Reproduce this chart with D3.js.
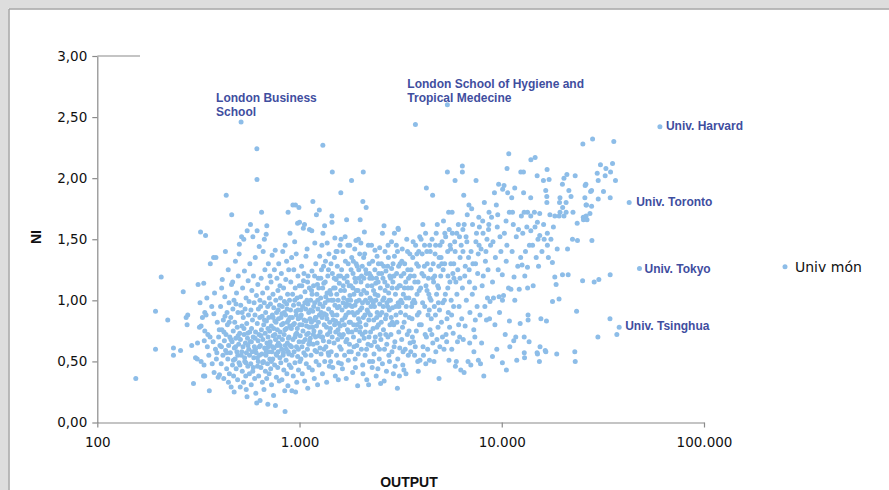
<!DOCTYPE html>
<html><head><meta charset="utf-8">
<script src="https://cdn.jsdelivr.net/npm/d3@7"></script>
<style>body{margin:0;background:#fff}svg{display:block}</style>
</head><body>
<svg id="chart" width="889" height="490"></svg>
<script>
// ---- data ----
const xTicks = [100, 1000, 10000, 100000];
const yTicks = [0, 0.5, 1, 1.5, 2, 2.5, 3];
const xTitle = "OUTPUT";
const yTitle = "NI";
const seriesName = "Univ món";

const namedUnis = ["London Business School", "London School of Hygiene and Tropical Medecine", "Univ. Harvard", "Univ. Toronto", "Univ. Tokyo", "Univ. Tsinghua"];
const namedOutput = [514, 5383, 60530, 42660, 47970, 38070];
const namedNI = [2.46, 2.60, 2.42, 1.80, 1.26, 0.78];

// [OUTPUT, NI] pairs, output below 1.000
const univLow = [
[155,0.36],[194,0.91],[207,1.19],[223,0.84],[194,0.60],[238,0.61],[238,0.55],[258,0.59],[266,1.07],[275,0.86],[280,0.88],[278,0.80],[293,0.63],[306,0.53],[299,0.32],
[313,0.65],[312,0.52],[315,1.13],[322,0.98],[324,1.56],[343,1.53],[336,1.14],[326,0.79],[340,0.75],[340,0.90],[345,0.88],[338,0.67],[335,0.38],[337,0.47],[358,0.26],[356,0.55],[350,0.62],[352,0.72],[348,1.02],[331,0.86],[320,0.78],[326,0.50],[340,0.38],
[362,1.30],[376,1.35],[386,1.35],[380,1.06],[377,0.89],[361,0.70],[390,0.57],[398,0.70],[401,0.76],[378,0.41],[396,0.37],[402,0.39],[370,0.48],[384,0.60],[392,0.82],[368,0.95],[388,0.52],[374,0.66],
[404,0.63],[407,0.95],[410,0.48],[413,0.76],[415,1.17],[418,0.55],[420,0.84],[422,0.36],[425,0.67],[427,1.03],[430,1.40],[431,0.59],[433,0.72],[436,0.44],[438,0.90],[440,0.80],[442,0.52],[444,1.25],[446,0.63],[448,0.98],[450,0.40],[452,0.70],[434,1.86],[445,0.33],[412,1.10],[428,0.87],
[455,0.57],[457,0.86],[459,0.29],[461,1.13],[462,1.70],[464,0.66],[466,0.47],[468,0.93],[470,0.75],[472,0.38],[474,1.00],[476,0.61],[478,0.82],[480,0.52],[482,1.32],[484,0.69],[486,0.44],[488,1.06],[490,0.58],[492,0.78],[494,0.35],[496,0.90],[498,1.20],[500,0.64],[502,0.49],[504,1.46],[506,0.73],[503,1.38],[485,0.97],[475,0.25],[495,0.55],[467,1.15],
[509,0.29],[510,0.68],[512,0.96],[515,0.55],[517,1.52],[519,0.79],[521,0.42],[523,1.10],[525,0.62],[527,0.86],[529,0.33],[530,1.50],[532,0.72],[534,1.24],[536,0.50],[538,0.93],[540,0.65],[542,0.38],[544,1.02],[546,0.57],[548,0.81],[550,0.21],[551,1.57],[553,0.69],[555,0.46],[557,1.16],[559,0.88],[561,0.60],[563,0.99],[565,0.40],[567,0.74],[568,1.30],[545,0.27],[535,0.53],[556,0.63],[520,0.90],
[570,0.66],[572,1.62],[574,0.48],[575,0.92],[577,0.31],[579,0.77],[581,1.08],[583,0.58],[585,0.84],[587,0.42],[588,1.52],[590,0.70],[592,1.20],[594,0.53],[596,0.98],[598,0.62],[600,0.36],[602,0.88],[604,1.35],[606,0.74],[608,0.24],[610,0.57],[612,1.04],[614,0.16],[615,2.24],[616,1.99],[617,1.57],[618,0.81],[620,0.46],[622,1.13],[624,0.67],[626,0.93],[628,0.38],[630,0.72],[632,1.44],[634,0.55],[636,0.86],[637,1.00],[605,0.60],[625,0.50],
[638,0.18],[640,0.63],[642,0.95],[644,0.45],[646,1.18],[648,0.76],[649,1.72],[651,0.56],[653,0.87],[655,0.33],[657,1.06],[659,0.68],[661,1.40],[663,0.50],[665,0.80],[667,0.27],[669,0.98],[670,1.50],[672,0.61],[674,1.25],[676,0.73],[678,0.42],[680,0.90],[682,0.55],[684,1.54],[686,0.83],[688,0.36],[689,1.61],[690,0.65],[692,1.10],[694,0.48],[696,0.95],[697,0.15],[699,0.70],[701,1.30],[703,0.58],[705,0.86],[707,0.40],[709,1.02],[711,0.75],[713,0.52],[714,1.20],[700,0.62],[681,0.60],
[716,0.66],[718,0.97],[720,0.44],[723,1.15],[725,0.79],[727,0.31],[730,0.58],[732,1.37],[734,0.88],[737,0.52],[739,1.05],[741,0.71],[744,0.22],[746,0.94],[748,0.61],[751,1.25],[753,0.47],[755,0.83],[758,1.41],[760,0.14],[761,0.68],[763,1.00],[766,0.56],[768,0.37],[770,0.90],[773,1.18],[775,0.63],[777,0.76],[780,0.45],[782,1.08],[784,0.58],[787,0.85],[789,1.30],[792,0.70],[794,0.34],[796,0.96],[799,0.53],[800,1.12],[745,0.77],[765,0.82],[786,0.65],[735,0.62],
[803,0.74],[805,1.02],[808,0.49],[810,0.86],[813,1.22],[816,0.60],[818,0.35],[821,0.95],[823,0.68],[826,1.40],[829,0.55],[831,0.81],[834,1.10],[836,0.43],[839,0.72],[842,0.99],[845,0.26],[848,0.09],[849,1.45],[850,0.63],[853,0.88],[855,1.17],[858,0.51],[861,0.77],[863,1.32],[866,0.40],[868,0.93],[871,0.65],[873,1.05],[876,0.30],[878,1.72],[879,0.58],[882,0.84],[884,1.25],[887,0.70],[890,0.47],[892,1.00],[895,0.79],[897,1.55],[860,0.60],[870,0.82],[885,0.56],[815,0.80],[840,0.90],
[899,0.63],[902,0.92],[905,1.15],[908,0.45],[911,0.77],[914,1.35],[917,0.26],[918,0.55],[921,0.86],[924,1.05],[927,1.78],[928,0.68],[931,0.38],[934,0.96],[937,1.25],[940,0.58],[943,0.81],[946,1.48],[949,0.49],[952,1.10],[955,1.78],[956,0.25],[957,0.72],[960,0.91],[963,1.38],[966,0.62],[969,0.33],[972,1.02],[975,0.77],[978,1.63],[979,0.54],[982,1.20],[985,0.85],[988,0.43],[991,0.97],[993,1.76],[995,0.66],[998,1.12],[950,0.70],[965,0.88],[986,0.60],
[411,0.62],[423,0.74],[437,0.57],[449,0.82],[458,0.68],[471,0.51],[483,0.62],[497,0.71],[507,0.47],[518,0.58],[531,0.77],[543,0.49],[554,0.73],[566,0.55],[578,0.66],[591,0.45],[603,0.69],[619,0.53],[633,0.62],[645,0.71],[658,0.49],[671,0.84],[685,0.58],[698,0.77],[712,0.64],[726,0.50],[740,0.86],[756,0.72],[771,0.55],[785,0.92],[802,0.63],[818,0.89],[833,0.57],[847,0.76],[864,0.97],[881,0.69],[896,0.86],[912,0.62],[930,0.80],[947,1.00],[968,0.73],[983,0.92]
];

// output 1.000 – 10.000
const univMid = [
[1000,1.64],[1002,0.80],[1004,0.50],
[1008,0.71],[1012,1.03],[1016,0.52],[1020,0.88],[1024,1.28],[1028,0.62],[1032,0.40],[1036,0.95],[1040,0.75],[1044,1.59],[1046,1.16],[1050,0.57],[1054,0.84],[1058,1.62],[1060,0.34],[1064,1.07],[1068,0.68],[1072,0.93],[1076,1.36],[1080,0.48],[1084,0.79],[1088,1.00],[1090,1.42],[1094,0.60],[1098,0.28],[1102,1.20],[1106,0.73],[1110,0.90],[1114,0.45],[1118,1.10],[1120,1.58],[1122,0.66],[1126,0.85],[1030,0.80],[1070,0.55],[1100,0.97],[1112,0.64],[1052,1.22],[1085,0.72],[1015,0.92],
[1130,0.69],[1135,1.00],[1140,0.55],[1145,0.82],[1150,1.57],[1152,1.24],[1157,0.43],[1162,0.91],[1164,1.81],[1168,0.64],[1173,1.12],[1178,0.75],[1183,0.36],[1188,0.98],[1190,1.47],[1193,0.59],[1198,0.86],[1203,1.30],[1208,0.50],[1212,1.70],[1213,0.79],[1218,1.05],[1223,0.65],[1228,0.31],[1233,0.93],[1238,1.18],[1243,0.71],[1248,0.47],[1253,1.74],[1254,0.88],[1258,1.36],[1262,0.61],[1146,1.08],[1175,0.95],[1200,0.70],[1230,1.00],[1160,0.78],[1215,0.58],[1245,1.10],[1185,0.84],
[1266,0.74],[1272,1.02],[1278,0.56],[1284,1.25],[1290,1.45],[1292,0.86],[1298,0.40],[1304,2.27],[1305,1.55],[1306,0.95],[1312,0.67],[1318,1.14],[1324,0.80],[1330,1.61],[1332,0.50],[1338,0.98],[1344,1.32],[1350,0.62],[1356,0.88],[1362,0.33],[1368,1.06],[1370,1.47],[1374,0.72],[1380,1.20],[1386,0.57],[1392,0.93],[1398,1.38],[1404,0.46],[1410,0.82],[1414,1.08],[1280,0.90],[1300,0.70],[1320,0.60],[1340,1.15],[1360,0.78],[1385,1.00],[1400,0.66],[1275,1.18],[1315,1.28],[1395,0.55],
[1420,0.77],[1427,1.05],[1434,0.58],[1441,0.90],[1446,1.69],[1447,1.64],[1452,2.05],[1453,1.22],[1460,0.45],[1467,0.84],[1474,1.10],[1481,0.65],[1488,1.35],[1495,1.51],[1496,0.96],[1503,0.38],[1510,0.74],[1517,1.17],[1524,0.55],[1531,0.88],[1535,1.40],[1538,1.28],[1545,0.68],[1552,1.00],[1559,0.49],[1566,0.81],[1573,1.14],[1580,0.62],[1585,1.45],[1430,1.30],[1450,0.70],[1470,1.00],[1490,0.80],[1515,1.40],[1540,0.94],[1560,1.20],[1575,0.72],[1425,0.50],[1500,1.10],[1555,0.35],
[1590,0.79],[1598,1.08],[1600,1.88],[1606,0.60],[1614,1.25],[1622,0.92],[1630,0.44],[1638,1.40],[1646,0.72],[1654,1.02],[1662,1.18],[1670,0.55],[1678,0.86],[1686,1.32],[1694,0.66],[1702,0.36],[1709,1.66],[1710,0.97],[1718,1.20],[1726,0.76],[1734,1.45],[1742,0.51],[1750,0.90],[1758,1.12],[1766,0.64],[1770,1.45],[1775,1.04],[1605,1.50],[1625,0.84],[1645,1.12],[1665,0.80],[1690,0.95],[1715,0.68],[1740,1.30],[1760,0.82],[1610,0.48],[1680,1.52],[1730,1.00],[1755,0.58],
[1785,0.82],[1794,1.12],[1803,0.58],[1808,1.98],[1812,1.35],[1821,0.95],[1830,0.41],[1839,1.22],[1848,0.70],[1857,1.05],[1866,0.88],[1875,1.42],[1884,0.52],[1893,1.15],[1900,1.49],[1902,0.76],[1911,0.99],[1920,0.63],[1929,1.28],[1938,0.30],[1947,1.08],[1955,1.50],[1956,0.85],[1965,1.18],[1974,0.67],[1983,1.38],[1992,0.92],[1994,1.66],[1790,1.00],[1815,0.74],[1835,1.10],[1860,0.62],[1880,0.96],[1905,1.30],[1925,0.80],[1950,0.56],[1970,1.00],[1988,0.74],[1845,1.32],[1890,0.45],
[2000,0.78],[2010,1.47],[2012,1.15],[2022,0.60],[2032,0.94],[2042,1.28],[2052,0.47],[2056,1.81],[2066,2.05],[2067,0.86],[2077,1.08],[2087,0.69],[2093,1.56],[2100,1.38],[2110,0.55],[2120,1.00],[2130,0.80],[2135,1.76],[2140,1.22],[2150,0.35],[2160,0.92],[2170,1.12],[2180,0.64],[2190,1.45],[2200,0.84],[2210,1.30],[2220,0.50],[2230,1.02],[2025,1.20],[2045,0.72],[2075,1.35],[2105,0.88],[2145,0.60],[2175,0.98],[2205,0.70],[2225,1.18],[2060,0.40],[2125,1.25],[2196,0.31],
[2240,0.88],[2250,1.20],[2262,0.63],[2270,1.45],[2274,1.00],[2286,0.45],[2298,1.32],[2310,0.77],[2322,1.08],[2334,0.56],[2346,0.95],[2358,1.25],[2360,1.41],[2370,0.70],[2382,1.14],[2394,0.38],[2406,0.86],[2418,1.36],[2430,0.62],[2442,1.04],[2454,0.80],[2466,1.22],[2478,0.52],[2490,1.43],[2492,0.97],[2502,0.72],[2245,0.74],[2280,1.12],[2315,0.98],[2350,0.66],[2385,1.00],[2420,0.90],[2455,1.30],[2485,0.60],[2300,0.50],[2400,1.18],[2440,0.44],[2518,0.32],
[2510,1.10],[2525,0.68],[2540,1.30],[2555,0.90],[2568,1.55],[2570,0.48],[2585,1.18],[2600,0.76],[2615,1.02],[2617,1.61],[2630,0.60],[2645,1.40],[2660,0.85],[2675,1.24],[2690,0.42],[2705,0.98],[2720,1.12],[2735,0.70],[2750,1.35],[2765,0.55],[2780,0.92],[2795,1.20],[2800,0.80],[2535,0.82],[2580,1.00],[2620,0.34],[2650,1.08],[2700,0.64],[2740,1.45],[2785,0.50],[2610,1.28],[2670,0.72],[2725,0.95],[2760,1.06],
[2815,1.00],[2830,0.72],[2850,1.48],[2852,1.26],[2865,0.58],[2880,0.94],[2895,1.15],[2910,0.40],[2925,0.80],[2945,1.55],[2946,1.36],[2960,0.66],[2980,1.05],[3000,0.88],[3020,1.22],[3047,0.28],[3050,1.40],[3060,0.52],[3070,1.59],[3075,0.98],[3080,1.58],[3095,0.74],[3110,1.12],[3130,0.61],[3140,1.30],[2840,0.86],[2900,1.30],[2970,0.46],[3030,0.82],[3100,0.95],[2870,1.10],[3010,1.45],[2935,0.62],[3120,0.38],
[3160,0.90],[3180,1.20],[3200,0.68],[3220,1.42],[3240,0.47],[3260,1.05],[3281,0.43],[3290,0.82],[3310,1.30],[3330,0.60],[3350,1.15],[3370,0.95],[3390,1.50],[3410,0.72],[3430,1.25],[3450,0.55],[3470,1.02],[3490,0.86],[3510,1.38],[3520,0.65],[3170,1.00],[3230,0.78],[3300,1.10],[3360,0.40],[3420,1.40],[3480,0.75],[3205,1.32],[3340,0.88],[3460,1.18],[3250,0.58],
[3548,0.58],[3570,1.10],[3600,0.85],[3630,1.35],[3660,0.66],[3690,1.20],[3720,0.98],[3741,2.44],[3750,1.45],[3780,0.75],[3810,1.05],[3840,0.50],[3864,0.42],[3870,1.28],[3900,0.90],[3930,1.52],[3940,0.51],[3560,1.25],[3615,0.70],[3675,1.00],[3735,0.62],[3795,1.30],[3855,1.15],[3915,0.80],[3585,0.95],[3645,1.48],[3705,0.55],[3825,0.88],[3885,1.40],
[3970,1.10],[4000,0.80],[4040,1.38],[4080,0.62],[4120,1.20],[4160,0.95],[4200,1.55],[4238,1.92],[4240,0.70],[4280,1.30],[4320,0.88],[4360,1.05],[4390,0.51],[4400,1.45],[4420,0.76],[3990,1.50],[4060,0.98],[4100,0.55],[4140,1.28],[4180,0.72],[4220,1.12],[4260,1.40],[4300,0.60],[4340,1.18],[4380,0.92],[4070,1.62],[4210,0.48],[4410,1.02],
[4450,1.25],[4480,0.85],[4520,1.50],[4550,1.86],[4560,0.65],[4600,1.15],[4640,0.95],[4680,1.38],[4720,0.58],[4760,1.05],[4800,1.62],[4840,0.78],[4880,1.28],[4895,0.36],[4920,0.92],[4950,1.45],[4470,1.00],[4510,0.72],[4580,1.30],[4620,0.50],[4660,1.20],[4700,0.88],[4740,1.55],[4780,0.68],[4820,1.12],[4860,0.98],[4900,1.35],[4940,0.62],
[4990,1.20],[5030,0.82],[5070,1.48],[5110,0.98],[5150,1.65],[5180,0.60],[5220,1.30],[5260,1.05],[5300,0.72],[5340,0.66],[5384,2.05],[5400,1.40],[5440,0.90],[5480,0.51],[5500,1.58],[5540,1.15],[5010,1.35],[5090,0.70],[5130,1.25],[5200,1.00],[5280,1.52],[5360,0.85],[5420,1.20],[5460,1.72],[5520,0.78],[5555,1.45],
[5600,1.30],[5650,0.88],[5700,1.55],[5750,0.73],[5800,1.18],[5875,1.98],[5880,1.40],[5900,0.46],[5960,0.50],[6000,1.05],[6040,0.66],[6100,1.62],[6150,0.95],[6190,0.70],[6220,1.35],[5620,1.00],[5680,1.72],[5730,1.22],[5780,0.95],[5850,1.48],[5930,1.15],[6060,1.25],[6120,0.80],[6180,1.52],[5660,0.60],
[6270,0.43],[6300,1.45],[6383,2.10],[6384,2.05],[6390,1.10],[6450,0.68],[6486,1.86],[6510,0.41],[6520,1.62],[6590,0.79],[6600,1.28],[6680,1.00],[6750,1.70],[6810,0.50],[6850,1.35],[6920,1.15],[6960,0.90],[6340,0.85],[6420,1.58],[6560,1.20],[6720,1.48],[6880,1.78],[6940,0.65],
[7030,0.47],[7050,1.40],[7150,1.05],[7270,0.76],[7280,0.58],[7360,0.70],[7400,0.84],[7460,1.98],[7500,1.55],[7600,1.22],[7660,0.51],[7700,1.68],[7800,0.88],[7100,1.75],[7200,1.30],[7350,1.10],[7450,1.48],[7550,0.95],[7650,1.38],[7750,1.60],
[7850,0.48],[7900,1.42],[8000,1.12],[8150,0.38],[8200,1.80],[8300,1.32],[8400,0.84],[8500,1.02],[8600,1.58],[8700,0.85],[8750,0.99],[8050,1.65],[8250,0.95],[8450,1.50],[8550,1.25],[8650,1.72],[7950,0.65],[8100,1.20],
[8800,1.45],[8995,0.54],[9000,1.15],[9200,1.88],[9300,1.35],[9500,1.60],[9700,1.03],[9750,0.90],[9100,1.02],[9400,1.78],[9600,1.25],[9800,1.52],[8900,1.68],[9250,0.80],[9650,1.95],[9450,0.60],[9900,1.40],
[1010,0.86],[1026,1.12],[1042,0.66],[1062,0.98],[1078,0.83],[1096,1.15],[1116,0.78],[1134,0.92],[1154,1.05],[1170,0.72],[1187,1.20],[1206,0.86],[1226,1.13],[1240,0.82],[1260,0.97],[1283,0.70],[1302,1.10],[1326,0.89],[1347,1.03],[1366,0.85],[1390,1.25],[1412,0.74],[1438,1.00],[1462,0.88],[1485,1.18],[1507,0.83],[1528,1.05],[1550,0.76],[1570,0.95],[1595,1.20],[1618,0.70],[1642,0.98],[1668,1.08],[1697,0.88],[1722,1.15],[1746,0.74],[1772,0.96],[1798,1.25],[1826,0.90],[1852,0.80],[1878,1.18],[1908,1.08],[1934,0.90],[1962,1.25],[1985,0.82],[2016,1.05],[2048,0.98],[2082,1.18],[2115,0.74],[2148,1.06],[2185,0.90],[2215,1.22],[2256,0.95],[2292,1.18],[2328,0.84],[2366,1.05],[2412,0.78],[2448,1.15],[2496,0.88],[2548,1.22],[2595,0.95],[2640,1.15],[2685,0.88],[2730,1.28],[2772,1.00],[2822,1.18],[2875,0.82],[2930,1.20],[2990,0.95],[3040,1.10],[3090,1.28],[3150,1.12],[3215,0.98],[3280,1.22],[3355,1.02],[3440,1.10],[3530,1.20],[3620,0.98],[3715,1.15],[3805,1.38],[3905,1.08],
[4030,1.22],[4150,1.45],[4270,1.08],[4430,1.40],[4570,1.18],[4710,1.45],[4870,1.10],[5050,1.30],[5230,1.55],[5410,1.10],[5590,1.42],[5790,1.30],[5990,1.55],[6210,1.18],[6430,1.40],[6660,1.52],[6900,1.25],[7170,1.62],[7420,1.30],[7720,1.45],[8080,1.55],[8350,1.40],[8630,1.62],[9050,1.48],[9550,1.70]
];

// output above 10.000
const univHigh = [
[10070,0.49],[10080,1.00],[10100,1.91],[10200,1.04],[10260,1.94],[10500,1.65],[10520,1.32],[10540,0.43],[10620,2.08],[10700,1.88],[10830,2.20],[10900,1.72],[10910,0.83],[10960,0.62],[10060,1.21],[10300,1.55],[10600,1.45],[10400,0.72],[10800,1.10],
[11100,1.09],[11200,1.84],[11300,1.72],[11400,1.62],[11460,0.67],[11500,1.19],[11590,1.92],[11730,0.70],[11860,0.51],[12200,1.09],[12330,0.81],[12400,1.35],[12420,2.05],[12500,1.69],[11250,1.40],[11800,1.52],[12000,1.28],[11600,1.00],[12100,1.58],
[12600,1.29],[12800,2.05],[12820,1.88],[12900,1.72],[12910,0.70],[12920,0.57],[12960,0.53],[13400,1.27],[13410,1.72],[13420,1.10],[13490,0.88],[13500,0.84],[13650,0.66],[13700,1.45],[12700,1.55],[13100,1.40],[13300,1.60],[13000,1.20],
[13900,1.84],[13910,1.69],[13920,1.57],[13930,2.15],[14500,1.72],[14600,1.60],[14620,2.17],[14950,0.57],[14960,2.02],[15000,1.64],[15020,0.56],[15200,1.28],[15350,0.50],[15400,1.71],[15410,1.53],[15460,0.62],[14200,1.45],[14800,1.35],[15100,1.50],[14300,1.12],
[15610,0.85],[16070,1.98],[16200,1.50],[16400,0.59],[16500,1.90],[16520,0.58],[16630,0.83],[16700,1.85],[16710,1.80],[16750,2.07],[16800,1.55],[16810,1.45],[17140,1.99],[17000,1.35],[15800,1.40],[16100,1.62],[17300,1.70],
[17500,1.50],[17800,1.31],[17820,0.99],[18290,1.19],[18300,1.69],[18560,1.13],[18700,0.56],[19200,1.01],[19210,1.69],[19300,1.80],[19400,1.84],[19410,1.72],[19950,1.95],[19960,1.21],[18000,1.60],[18800,1.42],
[20000,1.76],[20300,2.00],[20310,1.69],[20800,1.80],[20810,1.72],[20990,2.03],[21150,1.42],[21300,1.21],[21470,1.90],[22370,1.50],[22500,1.72],[22970,0.58],[23070,2.02],[23080,0.50],[23440,0.91],[23600,1.63],[23680,1.49],[22000,1.85],
[25100,1.16],[25180,2.28],[25300,1.68],[25360,1.66],[25760,1.84],[25840,1.94],[26060,1.95],[26100,1.78],[26120,1.69],[26240,1.78],[26400,1.66],[27290,1.71],[27500,1.89],[27800,1.90],[27810,1.77],[27910,1.49],[28120,2.32],[28640,1.15],[29650,2.04],[29870,0.70],[29980,1.98],[29990,1.83],[30200,1.17],[30760,2.11],
[31840,1.89],[32460,2.02],[32730,2.08],[34280,0.85],[34360,1.21],[34370,1.84],[34510,2.05],[35300,2.12],[35810,2.30],[36500,1.98],[37070,0.72]
];

// ---- drawing ----
const W = 889, H = 490;
const svg = d3.select("#chart");
const pointColor = "#8dbde8";
const labelColor = "#3f4e9f";
const axisColor = "#8a8a8a";

// frame bands
svg.append("rect").attr("x",0).attr("y",0).attr("width",W).attr("height",8.5).attr("fill","#dddddd");
svg.append("rect").attr("x",0).attr("y",0).attr("width",8.5).attr("height",H).attr("fill","#dddddd");
svg.append("line").attr("x1",9).attr("x2",W).attr("y1",9).attr("y2",9).attr("stroke","#a3a3a3").attr("stroke-width",1.5);
svg.append("line").attr("x1",9).attr("x2",9).attr("y1",9).attr("y2",H).attr("stroke","#a3a3a3").attr("stroke-width",1.5);

const x = d3.scaleLog().domain([100, 100000]).range([97.3, 704]);
const y = d3.scaleLinear().domain([0, 3]).range([422.5, 56]);

const loc = d3.formatLocale({decimal: ",", thousands: ".", grouping: [3], currency: ["", ""]});
const fx = loc.format(",");
const fy = loc.format(".2f");

const xAxis = svg.append("g").attr("transform", `translate(0,${y(0)})`)
  .call(d3.axisBottom(x).tickValues(xTicks).tickFormat(fx).tickSize(5).tickSizeOuter(0));
const yAxis = svg.append("g").attr("transform", `translate(${x(100)},0)`)
  .call(d3.axisLeft(y).tickValues(yTicks).tickFormat(fy).tickSize(5).tickSizeOuter(0));
[xAxis, yAxis].forEach(g => {
  g.selectAll("path,line").attr("stroke", axisColor).attr("stroke-width", 1.2);
  g.selectAll("text").attr("fill", "#111").style("font-family", "'DejaVu Sans', sans-serif").style("font-size", "13.5px");
});
xAxis.selectAll("text").attr("dy", null).attr("y", 24);
yAxis.selectAll("text").attr("x", -10);
// top extension line
svg.append("line").attr("x1", x(100)).attr("x2", 140).attr("y1", y(3)).attr("y2", y(3))
  .attr("stroke", axisColor).attr("stroke-width", 1.2);

// axis titles
svg.append("text").attr("x", 409).attr("y", 487).attr("text-anchor", "middle")
  .style("font-family", "'Liberation Sans', Arial, sans-serif").style("font-weight", "bold").style("font-size", "14px")
  .attr("fill", "#111").text(xTitle);
svg.append("text").attr("transform", "translate(40.5,237) rotate(-90)").attr("text-anchor", "middle")
  .style("font-family", "'Liberation Sans', Arial, sans-serif").style("font-weight", "bold").style("font-size", "14px")
  .attr("fill", "#111").text(yTitle);

// points
const allPts = univLow.concat(univMid, univHigh, namedOutput.map((o, i) => [o, namedNI[i]]));
svg.append("g").selectAll("circle").data(allPts).join("circle")
  .attr("cx", d => x(d[0])).attr("cy", d => y(d[1])).attr("r", 2.5).attr("fill", pointColor);

// labels
const labelStyle = {
  "London Business School": {lines: ["London Business", "School"], dx: -25, dy: -20},
  "London School of Hygiene and Tropical Medecine": {lines: ["London School of Hygiene and", "Tropical Medecine"], dx: -40, dy: -17},
  "Univ. Harvard": {lines: ["Univ. Harvard"], dx: 6, dy: 3.5},
  "Univ. Toronto": {lines: ["Univ. Toronto"], dx: 7, dy: 3.5},
  "Univ. Tokyo": {lines: ["Univ. Tokyo"], dx: 5, dy: 4},
  "Univ. Tsinghua": {lines: ["Univ. Tsinghua"], dx: 6, dy: 2.5}
};
const lg = svg.append("g").style("font-family", "'Liberation Sans', Arial, sans-serif")
  .style("font-weight", "bold").style("font-size", "12px").attr("fill", labelColor);
namedUnis.forEach((n, i) => {
  const s = labelStyle[n];
  const px = x(namedOutput[i]), py = y(namedNI[i]);
  s.lines.forEach((line, k) => {
    lg.append("text").attr("x", px + s.dx).attr("y", py + s.dy + k * 14).text(line);
  });
});

// legend
svg.append("circle").attr("cx", 785).attr("cy", 266.7).attr("r", 2.5).attr("fill", pointColor);
svg.append("text").attr("x", 795).attr("y", 271.5)
  .style("font-family", "'DejaVu Sans', sans-serif").style("font-size", "14px").attr("fill", "#111").text(seriesName);
</script>
</body></html>
